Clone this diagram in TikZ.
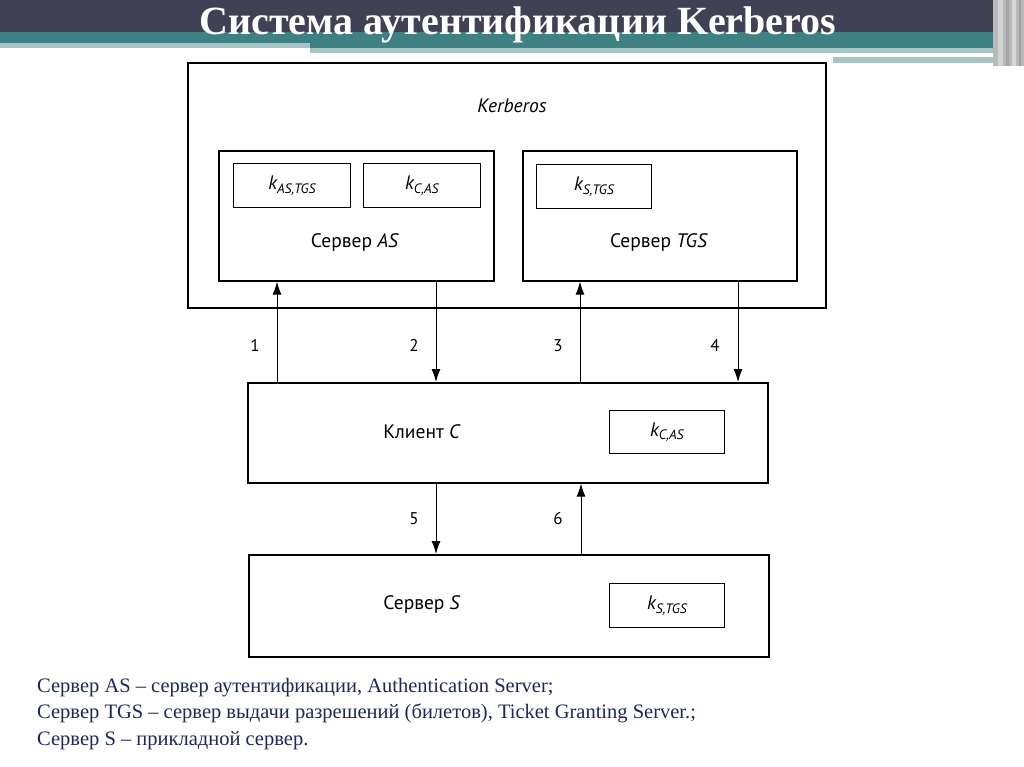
\documentclass[tikz,border=0pt]{standalone}
\usepackage{fontspec}
\setmainfont{Liberation Serif}
\newfontfamily\diag{PT Sans}
\usetikzlibrary{arrows.meta}
\definecolor{hdark}{HTML}{414155}
\definecolor{hteal}{HTML}{3F8085}
\definecolor{hlight}{HTML}{A7C4C6}
\definecolor{navy}{HTML}{1C2858}
\begin{document}
\begin{tikzpicture}[x=1pt,y=-1pt,
  box/.style={draw, line width=1.6pt, inner sep=0pt, anchor=north west},
  keybox/.style={draw, line width=1.3pt, inner sep=0pt, anchor=north west},
  lab/.style={font=\diag\fontsize{19.5}{22}\selectfont},
  num/.style={font=\diag\fontsize{17}{20}\selectfont, anchor=base},
  conn/.style={line width=1pt, -{Latex[length=13pt,width=9pt]}},
]
\useasboundingbox (0,0) rectangle (1024,767);
\fill[white] (0,0) rectangle (1024,767);
% header
\fill[hdark] (0,0) rectangle (1024,32);
\fill[hteal] (0,32) rectangle (310,43);
\fill[hteal] (310,32) rectangle (1000,48);
\fill[hlight] (0,43) rectangle (310,48);
\fill[hlight] (310,48) rectangle (1000,53);
\fill[hlight] (833,57) rectangle (1000,63);
\fill[gray!55] (993,0) rectangle (1024,66);
\fill[gray!35] (998,0) rectangle (1003,66);
\fill[gray!70] (1006,0) rectangle (1009,66);
\fill[gray!30] (1012,0) rectangle (1016,66);
\fill[gray!75] (1019,0) rectangle (1021,66);
\node[font=\bfseries\fontsize{40}{44}\selectfont, text=white, anchor=base] (title) at (518,35) {Система аутентификации Kerberos};

% boxes
\node[box, minimum width=638pt, minimum height=245pt] (kerb) at (187,62) {};
\node[lab, font=\diag\itshape\fontsize{19.5}{22}\selectfont] (kerbt) at (512,106) {Kerberos};
\node[box, minimum width=275pt, minimum height=130pt] (as) at (218,150) {};
\node[box, minimum width=274pt, minimum height=130pt] (tgs) at (522,150) {};
\node[keybox, minimum width=117pt, minimum height=44pt] (k1) at (233,163) {};
\node[lab] at (k1.center) {\itshape k\textsubscript{AS,TGS}};
\node[keybox, minimum width=117pt, minimum height=44pt] (k2) at (363,163) {};
\node[lab] at (k2.center) {\itshape k\textsubscript{C,AS}};
\node[keybox, minimum width=115pt, minimum height=44pt] (k3) at (536,164) {};
\node[lab] at (k3.center) {\itshape k\textsubscript{S,TGS}};
\node[lab] (ast) at (355,243) {Сервер \textit{AS}};
\node[lab] (tgst) at (659,243) {Сервер \textit{TGS}};

\node[box, minimum width=520pt, minimum height=100pt] (client) at (247,382) {};
\node[lab] (clientt) at (422,432) {Клиент \textit{C}};
\node[keybox, minimum width=115pt, minimum height=43pt] (k4) at (609,410) {};
\node[lab] at (k4.center) {\itshape k\textsubscript{C,AS}};

\node[box, minimum width=520pt, minimum height=102pt] (srv) at (248,554) {};
\node[lab] (srvt) at (422,605) {Сервер \textit{S}};
\node[keybox, minimum width=115pt, minimum height=44pt] (k5) at (609,583) {};
\node[lab] at (k5.center) {\itshape k\textsubscript{S,TGS}};

% connector x positions
\coordinate (x1) at (277,0);
\coordinate (x2) at (436,0);
\coordinate (x3) at (580,0);
\coordinate (x4) at (738,0);
\coordinate (x5) at (436,0);
\coordinate (x6) at (581,0);

\draw[conn] (client.north -| x1) -- (as.south -| x1);
\draw[conn] (as.south -| x2) -- (client.north -| x2);
\draw[conn] (client.north -| x3) -- (tgs.south -| x3);
\draw[conn] (tgs.south -| x4) -- (client.north -| x4);
\draw[conn] (client.south -| x5) -- (srv.north -| x5);
\draw[conn] (srv.north -| x6) -- (client.south -| x6);

\node[num] (n1) at (255,351) {1};
\node[num] (n2) at (414,351) {2};
\node[num] (n3) at (558,351) {3};
\node[num] (n4) at (715,351) {4};
\node[num] (n5) at (414,524) {5};
\node[num] (n6) at (558,524) {6};

% legend
\node[anchor=north west, align=left, text=navy, inner sep=0pt,
  font=\fontsize{20.5}{26.5}\selectfont] (legend) at (37,678)
  {Сервер AS – сервер аутентификации, Authentication Server;\\
   Сервер TGS – сервер выдачи разрешений (билетов), Ticket Granting Server.;\\
   Сервер S – прикладной сервер.};
\end{tikzpicture}
\end{document}
